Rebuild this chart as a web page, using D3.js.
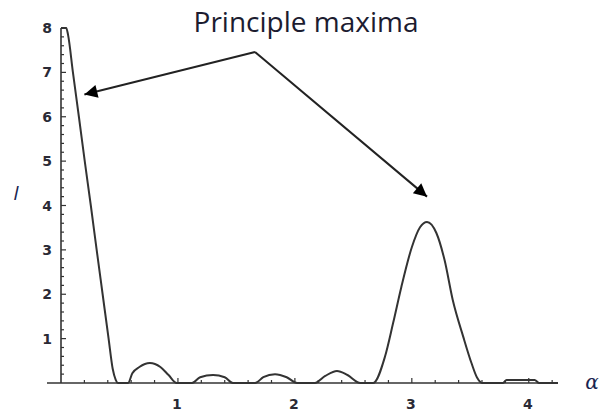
<!DOCTYPE html>
<html>
<head>
<meta charset="utf-8">
<script src="https://cdn.jsdelivr.net/npm/d3@7"></script>
<style>
  body { margin: 0; background: #fff; }
  svg { display: block; }
</style>
</head>
<body>
<svg width="600" height="414"></svg>
<script>
// Intensity curve (alpha, I)
const alphaValues = [0, 0.045, 0.06, 0.102, 0.153, 0.203, 0.255, 0.305, 0.356, 0.407, 0.442, 0.468, 0.487,
  0.573, 0.61, 0.67, 0.76, 0.85, 0.92, 0.99,
  1.12, 1.19, 1.30, 1.40, 1.47,
  1.66, 1.73, 1.83, 1.93, 2.02,
  2.17, 2.26, 2.36, 2.45, 2.56,
  2.67, 2.77, 2.84, 2.91, 3.0, 3.07, 3.13, 3.21, 3.28, 3.35, 3.44, 3.51, 3.56, 3.6,
  3.78, 3.81, 4.05, 4.09, 4.25];
const intensityValues = [8.0, 8.0, 7.85, 7.0, 6.0, 5.0, 4.0, 3.0, 2.0, 1.0, 0.32, 0.07, 0,
  0, 0.22, 0.36, 0.45, 0.36, 0.18, 0,
  0, 0.13, 0.18, 0.13, 0,
  0, 0.13, 0.2, 0.13, 0,
  0, 0.16, 0.27, 0.18, 0,
  0, 0.59, 1.35, 2.16, 3.06, 3.51, 3.63, 3.38, 2.77, 1.87, 1.04, 0.45, 0.11, 0,
  0, 0.07, 0.07, 0, 0];

const xTickValues = [1, 2, 3, 4];
const yTickValues = [1, 2, 3, 4, 5, 6, 7, 8];
const annotationText = "Principle maxima";
const peakTargets = [[0.2, 6.5], [3.13, 4.2]]; // where the arrows point (alpha, I)

const svg = d3.select("svg");

const x = d3.scaleLinear().domain([0, 4.25]).range([61, 558]);
const y = d3.scaleLinear().domain([0, 8]).range([383, 28]);

const axisColor = "#333";

// arrowhead
svg.append("defs").append("marker")
  .attr("id", "arrow")
  .attr("viewBox", "0 0 10 10")
  .attr("refX", 10)
  .attr("refY", 5)
  .attr("markerWidth", 18)
  .attr("markerHeight", 13)
  .attr("markerUnits", "userSpaceOnUse")
  .attr("orient", "auto")
  .append("path")
  .attr("d", "M0,0 L10,5 L0,10 z")
  .attr("fill", "#000");

// minor ticks every 0.2
const xMinor = d3.range(0.2, 4.21, 0.2).filter(v => Math.abs(v - Math.round(v)) > 0.01);
const yMinor = d3.range(0.2, 7.99, 0.2).filter(v => Math.abs(v - Math.round(v)) > 0.01);

// x axis
const gx = svg.append("g");
gx.append("line")
  .attr("x1", x(-0.12)).attr("x2", x(4.25))
  .attr("y1", y(0)).attr("y2", y(0))
  .attr("stroke", axisColor).attr("stroke-width", 1.6);
gx.selectAll(".xmin").data(xMinor).enter().append("line")
  .attr("x1", d => x(d)).attr("x2", d => x(d))
  .attr("y1", y(0)).attr("y2", y(0) - 3)
  .attr("stroke", axisColor).attr("stroke-width", 1.2);
gx.selectAll(".xmaj").data(xTickValues).enter().append("line")
  .attr("x1", d => x(d)).attr("x2", d => x(d))
  .attr("y1", y(0)).attr("y2", y(0) - 5)
  .attr("stroke", axisColor).attr("stroke-width", 1.2);
gx.selectAll("text").data(xTickValues).enter().append("text")
  .attr("x", d => x(d) - 1)
  .attr("y", y(0) + 26)
  .attr("text-anchor", "middle")
  .attr("font-family", "DejaVu Sans")
  .attr("font-weight", "bold")
  .attr("font-size", "14px")
  .attr("fill", "#2a2a35")
  .text(d => d);

// y axis
const gy = svg.append("g");
gy.append("line")
  .attr("x1", x(0)).attr("x2", x(0))
  .attr("y1", y(0)).attr("y2", y(8))
  .attr("stroke", axisColor).attr("stroke-width", 1.6);
gy.selectAll(".ymin").data(yMinor).enter().append("line")
  .attr("x1", x(0)).attr("x2", x(0) + 3)
  .attr("y1", d => y(d)).attr("y2", d => y(d))
  .attr("stroke", axisColor).attr("stroke-width", 1.2);
gy.selectAll(".ymaj").data(yTickValues).enter().append("line")
  .attr("x1", x(0)).attr("x2", x(0) + 5)
  .attr("y1", d => y(d)).attr("y2", d => y(d))
  .attr("stroke", axisColor).attr("stroke-width", 1.2);
gy.selectAll("text").data(yTickValues).enter().append("text")
  .attr("x", x(0) - 9)
  .attr("y", d => y(d))
  .attr("dy", "0.36em")
  .attr("text-anchor", "end")
  .attr("font-family", "DejaVu Sans")
  .attr("font-weight", "bold")
  .attr("font-size", "14px")
  .attr("fill", "#2a2a35")
  .text(d => d);

// axis labels
svg.append("text")
  .attr("x", 16).attr("y", 200)
  .attr("text-anchor", "middle")
  .attr("font-family", "Open Sans")
  .attr("font-style", "italic")
  .attr("font-size", "20px")
  .attr("fill", "#1a2550")
  .text("I");
svg.append("text")
  .attr("x", 592).attr("y", 389)
  .attr("text-anchor", "middle")
  .attr("font-family", "DejaVu Serif")
  .attr("font-style", "italic")
  .attr("font-size", "20px")
  .attr("fill", "#1a2550")
  .text("α");

// curve
const points = alphaValues.map((a, i) => [a, intensityValues[i]]);
const line = d3.line().x(d => x(d[0])).y(d => y(d[1])).curve(d3.curveMonotoneX);
svg.append("path")
  .datum(points)
  .attr("d", line)
  .attr("fill", "none")
  .attr("stroke", "#333")
  .attr("stroke-width", 2);

// annotation
svg.append("text")
  .attr("x", 306).attr("y", 32)
  .attr("text-anchor", "middle")
  .attr("font-family", "Open Sans")
  .attr("font-size", "28px")
  .attr("fill", "#1c1c30")
  .text(annotationText);

const vertex = [255, 52];
peakTargets.forEach(t => {
  svg.append("line")
    .attr("x1", vertex[0]).attr("y1", vertex[1])
    .attr("x2", x(t[0])).attr("y2", y(t[1]))
    .attr("stroke", "#222")
    .attr("stroke-width", 2)
    .attr("marker-end", "url(#arrow)");
});
</script>
</body>
</html>
